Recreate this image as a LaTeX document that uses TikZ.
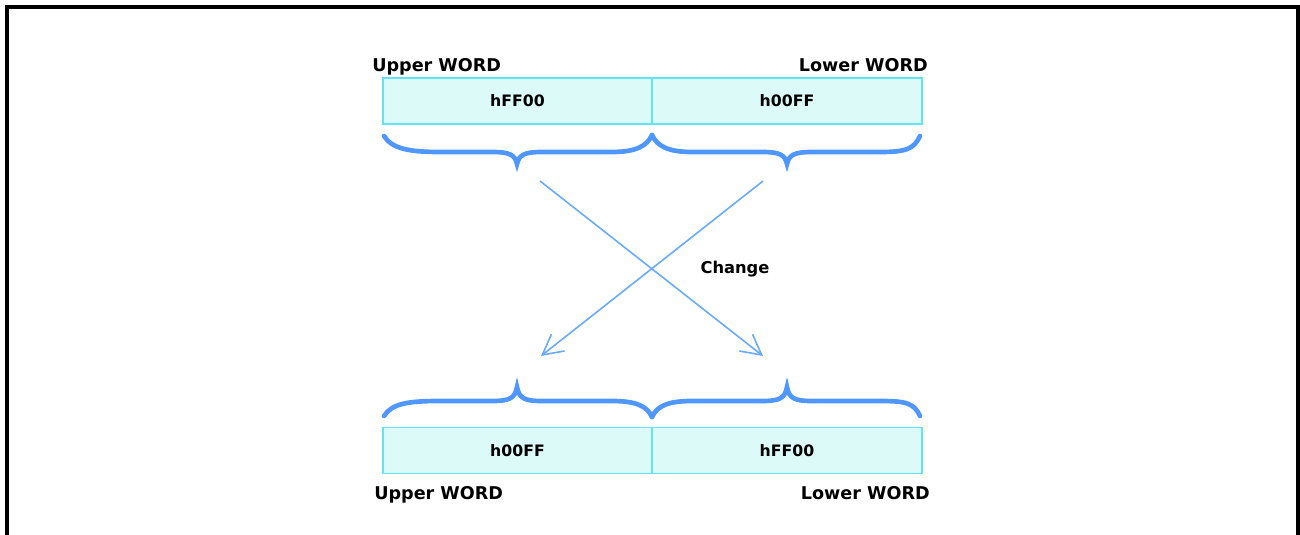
\documentclass[tikz,border=0pt]{standalone}
\usepackage{fontspec}
\setmainfont{DejaVu Sans}
\usetikzlibrary{arrows.meta}
\definecolor{cellfill}{RGB}{220,250,248}
\definecolor{cellline}{RGB}{100,228,238}
\definecolor{bracecol}{RGB}{80,150,255}
\definecolor{arrowcol}{RGB}{105,170,250}
\tikzset{
  cell/.style={draw=cellline, line width=1.4pt, fill=cellfill, minimum width=202pt, minimum height=34.5pt, inner sep=0pt, font=\fontsize{11.8}{13}\selectfont\bfseries},
  wordlabel/.style={inner sep=0pt, font=\fontsize{13.2}{15}\selectfont\bfseries},
  bracepath/.style={draw=bracecol, line width=3.5pt, line cap=round},
  swaparrow/.style={draw=arrowcol, line width=1.2pt, -{Straight Barb[length=15pt,width=16pt,line width=1.2pt]}}
}
\begin{document}
\begin{tikzpicture}[x=0.75pt,y=-0.75pt]
\useasboundingbox (0,0) rectangle (1300,535);
% frame
\draw[line width=3pt] (6.5,540) -- (6.5,7) -- (1297.5,7) -- (1297.5,540);

% top register
\node[cell] (tu) at (517.5,101) {hFF00};
\node[cell] (tl) at (787,101) {h00FF};
\node[wordlabel, anchor=base west] (tul) at (372,72) {Upper WORD};
\node[wordlabel, anchor=base east] (tll) at (928,72) {Lower WORD};

% bottom register
\node[cell] (bu) at (517.5,450.5) {h00FF};
\node[cell] (bl) at (787,450.5) {hFF00};
\node[wordlabel, anchor=base west] (bul) at (374,499) {Upper WORD};
\node[wordlabel, anchor=base east] (bll) at (930,499) {Lower WORD};

% top braces
\draw[bracepath] (384,136) .. controls (392,149) and (410,152) .. (440,152) -- (492,152)
  .. controls (510,152) and (515,155) .. (517,164)
  .. controls (519,155) and (524,152) .. (542,152) -- (612,152)
  .. controls (636,152) and (647,146) .. (652,135);
\draw[bracepath] (652,135) .. controls (657,146) and (668,152) .. (692,152) -- (762,152)
  .. controls (780,152) and (785,155) .. (787,164)
  .. controls (789,155) and (794,152) .. (812,152) -- (880,152)
  .. controls (906,152) and (914,149) .. (920,136);

% bottom braces
\draw[bracepath] (384,416) .. controls (392,403) and (410,401) .. (440,401) -- (492,401)
  .. controls (510,401) and (515,398) .. (517,387)
  .. controls (519,398) and (524,401) .. (542,401) -- (612,401)
  .. controls (636,401) and (647,406) .. (652,417);
\draw[bracepath] (652,417) .. controls (657,406) and (668,401) .. (692,401) -- (762,401)
  .. controls (780,401) and (785,398) .. (787,387)
  .. controls (789,398) and (794,401) .. (812,401) -- (880,401)
  .. controls (906,401) and (914,403) .. (920,416);

% swap arrows
\coordinate (s1) at (540,181);
\coordinate (e1) at (763,356);
\coordinate (s2) at (763,181);
\coordinate (e2) at (541,356);
\draw[swaparrow] (s1) -- (e1);
\draw[swaparrow] (s2) -- (e2);
\node[wordlabel, font=\fontsize{12.2}{14}\selectfont\bfseries] (chg) at (735,269) {Change};
\end{tikzpicture}
\end{document}
